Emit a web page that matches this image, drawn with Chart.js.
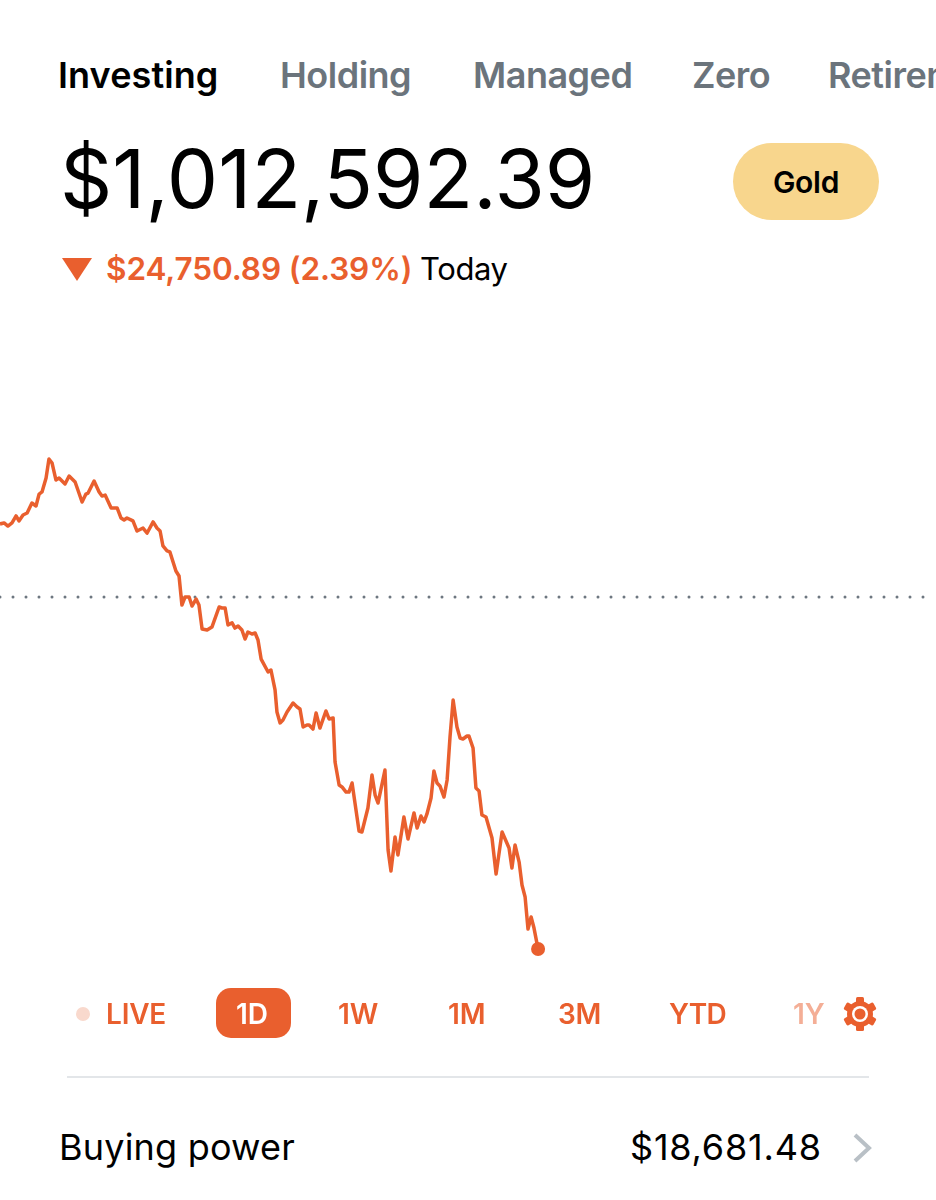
<!DOCTYPE html>
<html lang="en">
  <head>
    <meta charset="UTF-8" />
    <title>Investing</title>
    <style>
      html, body { margin: 0; padding: 0; background: #fff; }
      body { width: 936px; height: 1200px; position: relative; overflow: hidden; font-family: Inter, Arial, sans-serif; color: #000; }
      .t { position: absolute; white-space: nowrap; line-height: 1; }
      .tab { top: 57px; font-size: 36px; font-weight: 600; color: #6b747c; letter-spacing: -0.5px; }
      .range { top: 1000px; font-size: 28px; font-weight: 600; color: #e95f2e; letter-spacing: -0.2px; }
      .orange { color: #e95f2e; }
      #gold { position: absolute; left: 733px; top: 143px; width: 146px; height: 77px; border-radius: 39px; background: #f8d68d; text-align: center; line-height: 78px; font-size: 30px; font-weight: 600; letter-spacing: -0.3px; }
      #pill { position: absolute; left: 216px; top: 988px; width: 75px; height: 50px; border-radius: 15px; background: #e95f2e; }
      #liveDot { position: absolute; left: 76px; top: 1007px; width: 14px; height: 14px; border-radius: 50%; background: #f9d9cd; }
      #rule { position: absolute; left: 67px; top: 1076px; width: 802px; height: 2px; background: #e3e6e9; }
      #chartWrap { position: absolute; left: 0; top: 400px; width: 936px; height: 600px; }
      #chartWrap canvas { display: block; }
      svg { position: absolute; }
    </style>
    <script src="https://cdn.jsdelivr.net/npm/chart.js"></script>
  </head>
  <body>
    <div class="t tab" style="left: 58px; color: #000; letter-spacing: 0.1px">Investing</div>
    <div class="t tab" style="left: 280px">Holding</div>
    <div class="t tab" style="left: 473px">Managed</div>
    <div class="t tab" style="left: 692px">Zero</div>
    <div class="t tab" style="left: 828px">Retirement</div>

    <div class="t" id="total" style="left: 60px; top: 138px; font-size: 81.5px; font-weight: 400">$1,012,592.39</div>
    <div id="gold">Gold</div>

    <svg style="left: 62px; top: 258px" width="30" height="24"><path d="M0 0H30L15 23Z" fill="#e95f2e" /></svg>
    <div class="t orange" style="left: 106px; top: 253px; font-size: 31.5px; font-weight: 600; letter-spacing: -0.1px">$24,750.89 (2.39%)</div>
    <div class="t" style="left: 420px; top: 253px; font-size: 31px; letter-spacing: -0.4px">Today</div>

    <div id="chartWrap"><canvas id="dayChart" width="936" height="600"></canvas></div>

    <div id="liveDot"></div>
    <div class="t range" style="left: 106px">LIVE</div>
    <div id="pill"></div>
    <div class="t range" style="left: 236px; color: #fff">1D</div>
    <div class="t range" style="left: 338px">1W</div>
    <div class="t range" style="left: 448px">1M</div>
    <div class="t range" style="left: 558px">3M</div>
    <div class="t range" style="left: 669px; letter-spacing: -0.6px">YTD</div>
    <div class="t range" style="left: 793px; opacity: 0.5">1Y</div>
    <svg style="left: 843px; top: 997px" width="34" height="34" viewBox="0 0 34 34">
      <g fill="#e95f2e">
        <rect x="13" y="0" width="8" height="34" rx="1.5" />
        <rect x="13" y="0" width="8" height="34" rx="1.5" transform="rotate(60 17 17)" />
        <rect x="13" y="0" width="8" height="34" rx="1.5" transform="rotate(120 17 17)" />
      </g>
      <circle cx="17" cy="17" r="10.5" fill="none" stroke="#e95f2e" stroke-width="5" />
      <circle cx="17" cy="17" r="8" fill="#fff" />
      <circle cx="17" cy="17" r="5.5" fill="#e95f2e" />
    </svg>

    <div id="rule"></div>
    <div class="t" style="left: 59px; top: 1129px; font-size: 36px; letter-spacing: 0.2px">Buying power</div>
    <div class="t" style="left: 630px; top: 1129px; font-size: 36px; letter-spacing: 0.8px">$18,681.48</div>
    <svg style="left: 851px; top: 1132px" width="22" height="32"><path d="M4 3L18 16L4 29" fill="none" stroke="#b9c0c6" stroke-width="4" /></svg>

    <script>
      const previousClose = 1037343.28;

      // minutes since the open
      const minutes = [
        0, 1.7, 3.3, 5, 6.7, 7.9, 9.6, 11.3, 13.3, 15, 16.3, 17.5, 19.2, 20.4, 21.7, 23.3, 24.6, 27.1, 28.8, 31.3,
        34.2, 35.8, 36.7, 39.2, 41.3, 42.5, 43.8, 46.3, 48.8, 50.4, 51.7, 52.9, 55.4, 57.1, 59.6, 61.3, 63.8, 65.4, 66.7, 67.9,
        69.6, 70.8, 73.3, 74.6, 75.8, 77.1, 78.8, 80, 81.7, 82.9, 84.2, 86.3, 88.3, 91.3, 92.5, 93.8, 95, 96.7, 97.9, 99.2,
        100.8, 102.1, 103.3, 105, 106.3, 107.5, 108.8, 111.7, 112.9, 114.6, 115.4, 116.7, 117.9, 119.6, 122.1, 123.8, 125, 126.3, 127.9, 128.8,
        130.4, 131.7, 133.3, 135.8, 137.1, 138.8, 139.6, 141.3, 142.5, 144.2, 145.4, 146.7, 149.6, 150.8, 153.3, 155, 156.3, 157.5, 160.4, 161.7,
        162.9, 164.6, 165.8, 168.3, 170, 172.5, 173.8, 175.4, 176.7, 177.9, 179.6, 180.8, 182.1, 183.3, 185, 186.3, 187.5, 188.8, 190.4, 191.7,
        192.9, 194.6, 195.4, 197.1, 198.3, 199.6, 200.8, 202.5, 205, 206.7, 209.2, 212.1, 213.3, 214.6, 216.3, 217.5, 218.8, 220, 221.3, 222.5, 224.2,
      ];

      // account value in dollars at each of those minutes
      const accountValue = [
        1042480, 1042550, 1042330, 1042550, 1043040, 1042690, 1043110, 1043250, 1043950, 1043740, 1044580, 1044730, 1045710, 1047040, 1046760, 1045570, 1045710, 1045290, 1045850, 1045430,
        1044020, 1044580, 1044650, 1045500, 1044730, 1044440, 1044510, 1043600, 1043600, 1042900, 1042760, 1042900, 1042690, 1041980, 1042190, 1041840, 1042620, 1042190, 1041980, 1040930,
        1040580, 1040510, 1039170, 1038820, 1036780, 1037340, 1037340, 1036710, 1037200, 1036780, 1035090, 1035020, 1035230, 1036640, 1036570, 1036570, 1035380, 1035520, 1035160, 1035300,
        1035020, 1034390, 1034880, 1034740, 1034810, 1034320, 1032980, 1032070, 1032210, 1030810, 1029260, 1028490, 1028700, 1029260, 1029890, 1029610, 1029470, 1028200, 1028340, 1028340,
        1028060, 1029190, 1028130, 1029330, 1028770, 1028840, 1025740, 1024130, 1023990, 1023630, 1023630, 1024270, 1020890, 1020820, 1022510, 1024830, 1023420, 1022860, 1025180, 1019560,
        1018080, 1020470, 1019210, 1021880, 1020330, 1022160, 1021100, 1021950, 1021530, 1022090, 1023210, 1025110, 1024270, 1024060, 1023280, 1024480, 1027500, 1030100, 1028200, 1027430,
        1027360, 1027570, 1027570, 1026730, 1023920, 1023710, 1022020, 1021880, 1020400, 1017870, 1020820, 1019700, 1018290, 1019910, 1018710, 1017100, 1016250, 1014000, 1014850, 1014070, 1012592.39,
      ];

      const sessionMinutes = [0, 390];

      new Chart(document.getElementById("dayChart").getContext("2d"), {
        type: "line",
        data: {
          datasets: [
            {
              label: "Account value",
              data: minutes.map((m, i) => ({ x: m, y: accountValue[i] })),
              borderColor: "#e95f2e",
              backgroundColor: "#e95f2e",
              borderWidth: 3.5,
              borderJoinStyle: "round",
              tension: 0,
              fill: false,
              pointRadius: (ctx) => (ctx.dataIndex === minutes.length - 1 ? 7 : 0),
              pointBorderWidth: 0,
            },
            {
              label: "Previous close",
              data: sessionMinutes.map((m) => ({ x: m, y: previousClose })),
              borderColor: "#6d7780",
              borderWidth: 3,
              borderDash: [0, 13],
              borderCapStyle: "round",
              pointRadius: 0,
              fill: false,
            },
          ],
        },
        options: {
          responsive: false,
          animation: false,
          events: [],
          layout: { padding: 0, autoPadding: false },
          plugins: { legend: { display: false }, tooltip: { enabled: false } },
          scales: {
            x: { type: "linear", display: false, min: 0, max: 390 },
            y: { display: false, min: 1009012, max: 1051192 },
          },
        },
      });
    </script>
  </body>
</html>
